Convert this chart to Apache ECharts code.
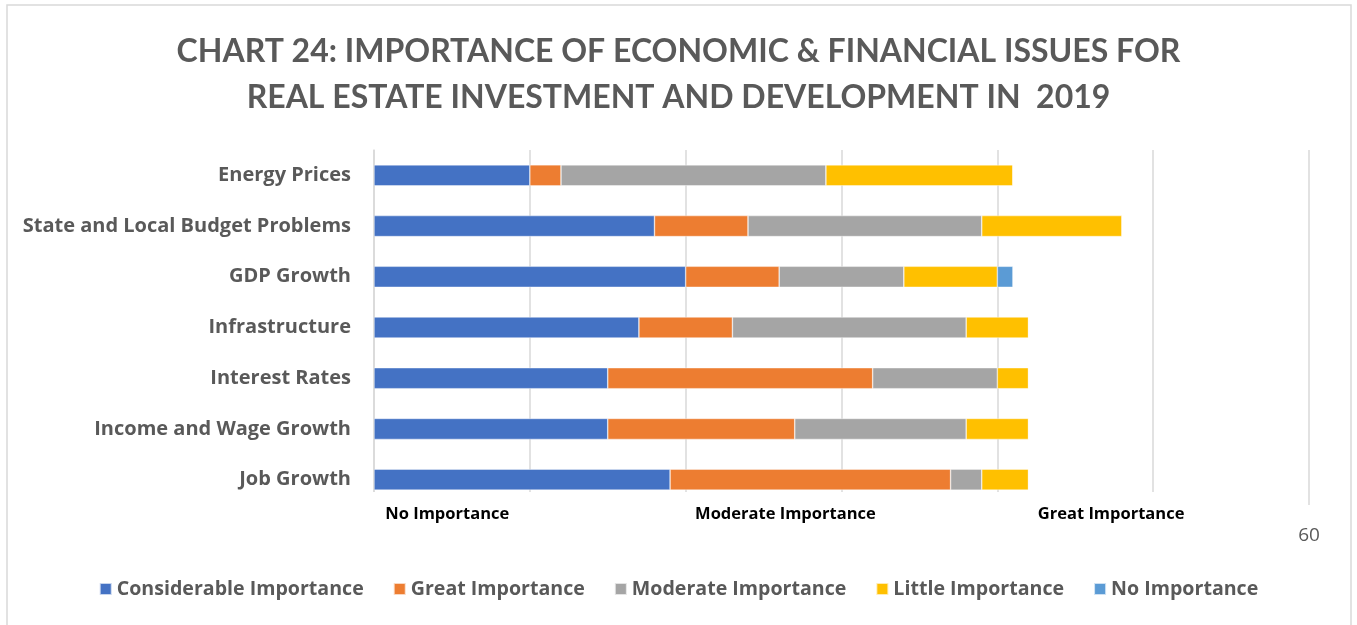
<!DOCTYPE html>
<html>
<head>
<meta charset="utf-8">
<title>Chart 24</title>
<script src="https://cdn.jsdelivr.net/npm/echarts@6/dist/echarts.min.js"></script>
<style>
  html, body { margin: 0; padding: 0; background: #ffffff; }
  #chart { width: 1357px; height: 625px; }
</style>
</head>
<body>
<div id="chart"></div>
<script>
// Issues, listed bottom to top as the category axis draws them
const categories = [
  'Job Growth',
  'Income and Wage Growth',
  'Interest Rates',
  'Infrastructure',
  'GDP Growth',
  'State and Local Budget Problems',
  'Energy Prices'
];

// Number of responses per importance level, same order as categories
const considerable = [19, 15, 15, 17, 20, 18, 10];
const great        = [18, 12, 17, 6, 6, 6, 2];
const moderate     = [2, 11, 8, 15, 8, 15, 17];
const little       = [3, 4, 2, 4, 6, 9, 12];
const none         = [0, 0, 0, 0, 1, 0, 0];

const seriesNames = [
  'Considerable Importance',
  'Great Importance',
  'Moderate Importance',
  'Little Importance',
  'No Importance'
];
const seriesColors = ['#4472C4', '#ED7D31', '#A5A5A5', '#FFC000', '#5B9BD5'];
const seriesData = [considerable, great, moderate, little, none];

// Scale captions printed under the value axis
const scaleCaptions = ['No Importance', 'Moderate Importance', 'Great Importance'];
const scaleCaptionValues = [4.7, 26.4, 47.3];
const axisMax = 60;

const chart = echarts.init(document.getElementById('chart'), null, { renderer: 'canvas' });

const gridLeft = 374, gridRight = 48, gridTop = 150, gridBottom = 120;
const plotWidth = 1357 - gridLeft - gridRight;

const option = {
  backgroundColor: '#ffffff',
  animation: false,
  title: {
    text: 'CHART 24: IMPORTANCE OF ECONOMIC & FINANCIAL ISSUES FOR\nREAL ESTATE INVESTMENT AND DEVELOPMENT IN  2019',
    left: 'center',
    top: 24,
    textStyle: {
      fontFamily: 'Lato',
      fontWeight: 'bold',
      fontSize: 32,
      lineHeight: 46,
      color: '#595959'
    }
  },
  legend: {
    data: seriesNames,
    bottom: 21,
    left: 'center',
    icon: 'rect',
    itemWidth: 12,
    itemHeight: 12,
    itemGap: 29,
    itemTextGap: 6,
    textStyle: {
      fontFamily: 'Open Sans',
      fontWeight: 'bold',
      fontSize: 19.6,
      color: '#595959'
    }
  },
  grid: {
    left: gridLeft,
    right: gridRight,
    top: gridTop,
    bottom: gridBottom,
    containLabel: false
  },
  xAxis: {
    type: 'value',
    min: 0,
    max: axisMax,
    interval: 10,
    axisLine: { show: false },
    axisTick: { show: false },
    splitLine: { show: true, lineStyle: { color: '#d9d9d9', width: 1.5 } },
    axisLabel: {
      margin: 21,
      fontFamily: 'Open Sans',
      fontSize: 19,
      color: '#595959',
      formatter: function (v) { return v === axisMax ? String(v) : ''; }
    }
  },
  yAxis: {
    type: 'category',
    data: categories,
    axisLine: { show: true, lineStyle: { color: '#d9d9d9', width: 1.5 } },
    axisTick: { show: false },
    axisLabel: {
      margin: 23,
      fontFamily: 'Open Sans',
      fontWeight: 'bold',
      fontSize: 20,
      color: '#595959'
    }
  },
  series: seriesNames.map(function (name, i) {
    return {
      name: name,
      type: 'bar',
      stack: 'total',
      barWidth: 21,
      data: seriesData[i],
      itemStyle: {
        color: seriesColors[i],
        borderColor: 'rgba(255,255,255,0.7)',
        borderWidth: 0.6
      }
    };
  }),
  graphic: [
    {
      type: 'rect',
      shape: { x: 7, y: 5, width: 1344, height: 630 },
      style: { fill: 'none', stroke: '#d9d9d9', lineWidth: 1.5 },
      silent: true,
      z: -1
    },
    // caption strip under the bars, over the lower ends of the grid lines
    {
      type: 'rect',
      shape: { x: 372, y: 492, width: 928, height: 14 },
      style: { fill: '#ffffff' },
      silent: true,
      z: 10
    }
  ].concat(scaleCaptions.map(function (txt, i) {
    return {
      type: 'text',
      x: gridLeft + plotWidth * scaleCaptionValues[i] / axisMax,
      y: 514,
      z: 11,
      style: {
        text: txt,
        align: 'center',
        verticalAlign: 'middle',
        fontFamily: 'Open Sans',
        fontWeight: 'bold',
        fontSize: 16.5,
        fill: '#000000'
      }
    };
  }))
};

chart.setOption(option);
</script>
</body>
</html>
